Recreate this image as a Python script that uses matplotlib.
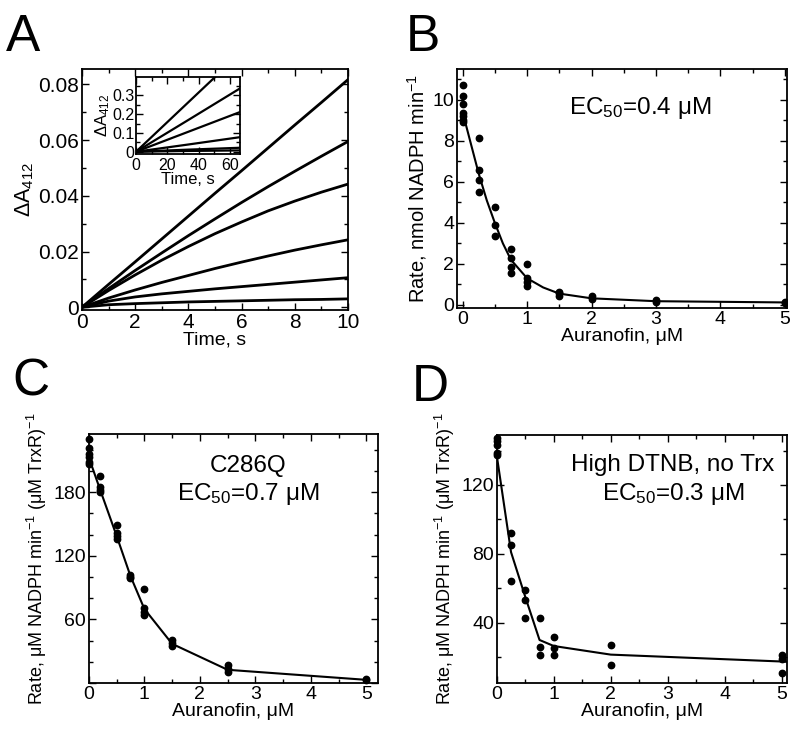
import matplotlib
matplotlib.use("Agg")
import matplotlib.pyplot as plt
from matplotlib.ticker import MultipleLocator, FuncFormatter

plt.rcParams['font.family'] = ['Liberation Sans', 'DejaVu Sans']
plt.rcParams['mathtext.fontset'] = 'custom'
plt.rcParams['mathtext.rm'] = 'Liberation Sans'
plt.rcParams['mathtext.it'] = 'Liberation Sans:italic'
plt.rcParams['mathtext.default'] = 'regular'

# ---- panel A : progress curves ----
a_time = [0, 1, 2, 3, 4, 5, 6, 7, 8, 9, 10]
a_traces = [
    [0, .0082, .0163, .0245, .0327, .0409, .0490, .0572, .0654, .0735, .0817],
    [0, .0067, .0132, .0195, .0257, .0317, .0376, .0433, .0488, .0542, .0595],
    [0, .0060, .0116, .0169, .0218, .0264, .0306, .0346, .0381, .0413, .0442],
    [0, .0033, .0062, .0089, .0114, .0139, .0162, .0184, .0205, .0224, .0242],
    [0, .0022, .0037, .0048, .0057, .0066, .0074, .0082, .0090, .0098, .0106],
    [0, .0009, .0013, .0016, .0019, .0021, .0023, .0025, .0027, .0028, .0030],
]
inset_time = [0, 33, 66]
inset_traces = [
    [0, 0.260, 0.520],
    [0, 0.167, 0.335],
    [0, 0.105, 0.210],
    [0, 0.038, 0.077],
    [0, 0.011, 0.021],
    [0, 0.004, 0.007],
]

# ---- panel B ----
b_x = [0]*7 + [0.25]*4 + [0.5]*3 + [0.75]*4 + [1.0]*4 + [1.5]*3 + [2]*2 + [3]*2 + [5]*2
b_y = [10.7, 10.2, 9.8, 9.35, 9.2, 9.0, 8.9,
       8.15, 6.6, 6.1, 5.5,
       4.75, 3.9, 3.35,
       2.75, 2.3, 1.85, 1.55,
       2.0, 1.3, 1.1, 0.93,
       0.65, 0.57, 0.45,
       0.45, 0.3,
       0.22, 0.15,
       0.15, 0.08]
b_fit_x = [0, 0.125, 0.25, 0.375, 0.5, 0.625, 0.75, 1.0, 1.25, 1.5, 2, 3, 5]
b_fit_y = [9.4, 7.9, 6.4, 5.1, 4.0, 3.0, 2.2, 1.3, 0.85, 0.55, 0.32, 0.18, 0.12]

# ---- panel C ----
c_x = [0]*6 + [0.2]*4 + [0.5]*4 + [0.75]*3 + [1.0]*4 + [1.5]*3 + [2.5]*3 + [5]*2
c_y = [230, 222, 216, 213, 209, 207,
       195, 185, 182, 180,
       149, 142, 139, 136,
       102, 100, 99,
       89, 71, 67, 64,
       41, 38, 35,
       17, 13, 10,
       4, 3]
c_fit_x = [0, 0.2, 0.5, 0.75, 1.0, 1.5, 2.5, 5]
c_fit_y = [213, 183, 139, 101, 70, 37, 12.5, 3]

# ---- panel D ----
d_x = [0]*5 + [0.25]*3 + [0.5]*3 + [0.75]*3 + [1.0]*3 + [2]*2 + [5]*3
d_y = [147, 145.5, 143.5, 138.5, 137.5,
       92, 85, 64,
       59, 53, 43,
       43, 26, 21,
       32, 25.5, 21,
       27, 15.5,
       21, 19, 11]
d_fit_x = [0, 0.25, 0.5, 0.75, 1.0, 2, 5, 5.09]
d_fit_y = [137, 81, 55, 30, 26.5, 21.5, 17.5, 17.3]

rate_c = 'Rate, μM NADPH min$^{-1}$ (μM TrxR)$^{-1}$'
xlab = 'Auranofin, μM'
fmt = FuncFormatter(lambda v, p: '%g' % round(v, 6))
fmt_no0 = FuncFormatter(lambda v, p: '' if abs(v) < 1e-9 else '%g' % round(v, 6))


def style(ax, xmaj, xmin, ymaj, ymin, size=14):
    ax.xaxis.set_major_locator(MultipleLocator(xmaj))
    ax.xaxis.set_minor_locator(MultipleLocator(xmin))
    ax.yaxis.set_major_locator(MultipleLocator(ymaj))
    ax.yaxis.set_minor_locator(MultipleLocator(ymin))
    ax.xaxis.set_major_formatter(fmt)
    ax.yaxis.set_major_formatter(fmt)
    ax.tick_params(which='both', direction='in', top=True, right=True,
                   labelsize=size, pad=2)
    ax.tick_params(which='major', length=5, width=1)
    ax.tick_params(which='minor', length=3, width=1)
    for s in ax.spines.values():
        s.set_linewidth(1.3)


fig = plt.figure(figsize=(8, 7.35), dpi=100)

# A
axA = fig.add_axes([0.1025, 0.5782, 0.3325, 0.3279])
for tr in a_traces:
    axA.plot(a_time, tr, color='black', lw=2)
axA.set_xlim(0, 10)
axA.set_ylim(-0.001, 0.0855)
style(axA, 2, 1, 0.02, 0.01, size=15)
axA.set_xlabel('Time, s', fontsize=14, labelpad=0)
axA.set_ylabel('ΔA$_{412}$', fontsize=15.5, labelpad=2)

axI = fig.add_axes([0.17, 0.7905, 0.13, 0.1048])
for tr in inset_traces:
    axI.plot(inset_time, tr, color='black', lw=1.6)
axI.set_xlim(0, 66.4)
axI.set_ylim(-0.012, 0.398)
style(axI, 20, 10, 0.1, 0.05, size=11.5)
axI.tick_params(axis='x', pad=3)
axI.tick_params(axis='y', pad=1)
axI.set_xlabel('Time, s', fontsize=12, labelpad=-1)
axI.set_ylabel('ΔA$_{412}$', fontsize=12, labelpad=0)

# B
axB = fig.add_axes([0.571, 0.581, 0.4125, 0.325])
axB.plot(b_fit_x, b_fit_y, color='black', lw=1.5)
axB.plot(b_x, b_y, 'o', color='black', ms=4.6)
axB.set_xlim(-0.09, 5.03)
axB.set_ylim(-0.15, 11.5)
style(axB, 1, 0.5, 2, 1)
axB.set_xlabel(xlab, fontsize=14, labelpad=0)
axB.set_ylabel('Rate, nmol NADPH min$^{-1}$', fontsize=14.5, labelpad=2)
axB.text(2.75, 9.6, 'EC$_{50}$=0.4 μM', fontsize=17.5, ha='center', va='center')

# C
axC = fig.add_axes([0.111, 0.0707, 0.361, 0.3388])
axC.plot(c_fit_x, c_fit_y, color='black', lw=1.5)
axC.plot(c_x, c_y, 'o', color='black', ms=4.6, clip_on=False)
axC.set_xlim(0, 5.2)
axC.set_ylim(0, 235)
style(axC, 1, 0.5, 60, 20)
axC.yaxis.set_major_formatter(fmt_no0)
axC.set_xlabel(xlab, fontsize=14, labelpad=0)
axC.set_ylabel(rate_c, fontsize=13, labelpad=3)
axC.text(2.86, 205, 'C286Q', fontsize=17.5, ha='center', va='center')
axC.text(2.86, 178, 'EC$_{50}$=0.7 μM', fontsize=17.5, ha='center', va='center')

# D
axD = fig.add_axes([0.621, 0.0707, 0.3625, 0.3374])
axD.plot(d_fit_x, d_fit_y, color='black', lw=1.5)
axD.plot(d_x, d_y, 'o', color='black', ms=4.6, clip_on=False)
axD.set_xlim(0, 5.09)
axD.set_ylim(5, 149)
style(axD, 1, 0.5, 40, 20)
axD.set_xlabel(xlab, fontsize=14, labelpad=0)
axD.set_ylabel(rate_c, fontsize=13, labelpad=3)
axD.text(3.09, 131.5, 'High DTNB, no Trx', fontsize=17.5, ha='center', va='center')
axD.text(3.09, 115, 'EC$_{50}$=0.3 μM', fontsize=17.5, ha='center', va='center')

# panel letters
for lab, x, y in [('A', 0.008, 0.93), ('B', 0.507, 0.93), ('C', 0.015, 0.462), ('D', 0.515, 0.455)]:
    fig.text(x, y, lab, fontsize=37)

fig.savefig('out.png', dpi=100)
